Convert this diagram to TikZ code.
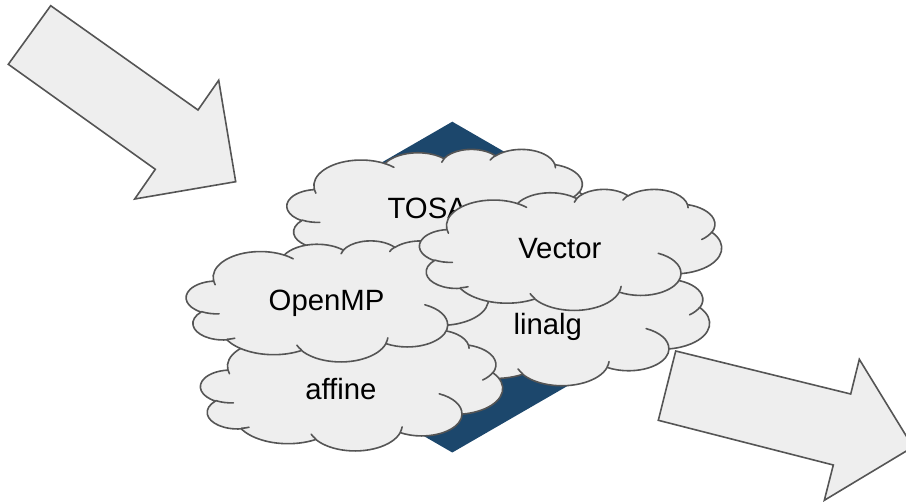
\documentclass[tikz,border=0pt]{standalone}
\usepackage{fontspec}
\setmainfont{Liberation Sans}

\definecolor{cloudfill}{RGB}{238,238,238}
\definecolor{edgegray}{RGB}{85,85,85}
\definecolor{hexblue}{RGB}{28,71,108}

% Elliptical arc given by its visual start angle and sweep (degrees);
% the result is stored as a ready-made TikZ "arc[...]" path piece.
\makeatletter
\newcommand\ooarcdef[5]{%
  \pgfmathsetmacro\oo@t{atan2((#2)*sin(#4),(#3)*cos(#4))}%
  \pgfmathsetmacro\oo@u{atan2((#2)*sin((#4)+(#5)),(#3)*cos((#4)+(#5)))}%
  \pgfmathsetmacro\oo@d{mod(\oo@u-\oo@t+720,360)}%
  \pgfmathsetmacro\oo@e{\oo@t+\oo@d}%
  \xdef#1{ arc[start angle=\oo@t, end angle=\oo@e, x radius=#2, y radius=#3]}%
}
\makeatother

% cloud outline, in a 43.2 x 43.2 box (y pointing down)
\ooarcdef\ooA{6.753}{9.190}{-190.4875}{123.7805}
\ooarcdef\ooB{5.333}{7.267}{-144.1024}{89.9452}
\ooarcdef\ooC{4.365}{5.945}{-145.8079}{99.7230}
\ooarcdef\ooD{4.857}{6.595}{-130.9861}{117.2417}
\ooarcdef\ooE{5.333}{7.273}{-78.7089}{109.0269}
\ooarcdef\ooF{6.775}{9.220}{-46.2673}{130.2690}
\ooarcdef\ooG{5.785}{7.867}{0.6250}{114.0333}
\ooarcdef\ooH{6.752}{9.215}{22.4516}{115.1726}
\ooarcdef\ooI{7.720}{10.543}{66.2426}{75.7110}
\ooarcdef\ooJ{4.360}{5.918}{-274.9421}{146.7356}
\ooarcdef\ooK{4.345}{5.945}{-246.8285}{152.5189}
% small inner puff strokes
\ooarcdef\ooa{4.345}{5.945}{86.7420}{26.4295}
\ooarcdef\oob{4.360}{5.918}{73.6105}{11.4475}
\ooarcdef\ooc{6.752}{9.215}{137.6242}{14.0811}
\ooarcdef\ood{6.752}{9.215}{6.4533}{15.9984}
\ooarcdef\ooe{5.785}{7.867}{-70.2924}{70.9174}
\ooarcdef\oof{5.333}{7.273}{30.3180}{27.7515}
\ooarcdef\oog{4.857}{6.595}{-13.7443}{14.8589}
\ooarcdef\ooh{4.857}{6.595}{-149.1815}{18.1954}
\ooarcdef\ooi{4.365}{5.945}{-163.4943}{17.6864}
\ooarcdef\ooj{6.753}{9.190}{-66.7070}{12.3194}
\ooarcdef\ook{6.753}{9.190}{157.6544}{11.8582}

\def\oooutline{(3.9,14.37)\ooA\ooB\ooC\ooD\ooE\ooF\ooG\ooH\ooI\ooJ\ooK -- cycle}
\def\ooinner{(4.693,26.177)\ooa (6.928,34.899)\oob (16.478,39.090)\ooc
  (28.827,34.751)\ood (34.129,22.954)\ooe (41.798,15.354)\oof
  (38.324,5.426)\oog (29.078,3.952)\ooh (22.141,4.720)\ooi
  (14.000,5.192)\ooj (4.127,15.789)\ook}

\tikzset{
  cloudbody/.style={fill=cloudfill, draw=edgegray, line width=1.2pt, line join=round},
  cloudline/.style={draw=edgegray, line width=1.2pt, line cap=round},
  cloudtext/.style={inner sep=0pt, font=\fontsize{22}{26}\selectfont,
    text height=19.9pt, text depth=4.66pt},
  blockarrow/.style={fill=cloudfill, draw=edgegray, line width=1.2pt, line join=miter},
}

% one cloud: name, left, top, label  (302 x 121 units)
\newcommand\mlircloud[4]{%
  \begin{scope}[shift={(#2,#3)}, x=5.2431pt, y=-2.1007pt]
    \path[cloudbody] \oooutline;
    \path[cloudline] \ooinner;
    \node[cloudtext] (#1) at (20.064,21.3) {#4};
  \end{scope}}

\begin{document}
\begin{tikzpicture}[x=0.75pt, y=-0.75pt]
  \useasboundingbox (0,0) rectangle (906,503);
  \clip (0,0) rectangle (906,503);

  % incoming and outgoing block arrows
  \path[blockarrow] (50.7,5.7) -- (8.3,64.3) -- (155.3,169.3) -- (134.7,199)
    -- (235.7,181.7) -- (218.7,80.3) -- (198,110) -- cycle;
  \path[blockarrow] (675.7,351) -- (658.3,420.3) -- (833.3,465) -- (824.3,500.3)
    -- (913,447) -- (859.3,359.3) -- (850.7,394) -- cycle;

  % hexagon behind the dialect clouds
  \fill[hexblue] (452.3,121.7) -- (595.5,204.4) -- (595.5,369.8) -- (452.3,452.5)
    -- (309.1,369.8) -- (309.1,204.4) -- cycle;

  % dialect clouds, back to front
  \mlircloud{tosa}{287}{149}{TOSA}
  \mlircloud{linalg}{407.5}{264.3}{linalg}
  \mlircloud{affine}{200.6}{329.5}{affine}
  \mlircloud{openmp}{186.3}{240.5}{OpenMP}
  \mlircloud{vector}{419.6}{189}{Vector}
\end{tikzpicture}
\end{document}
